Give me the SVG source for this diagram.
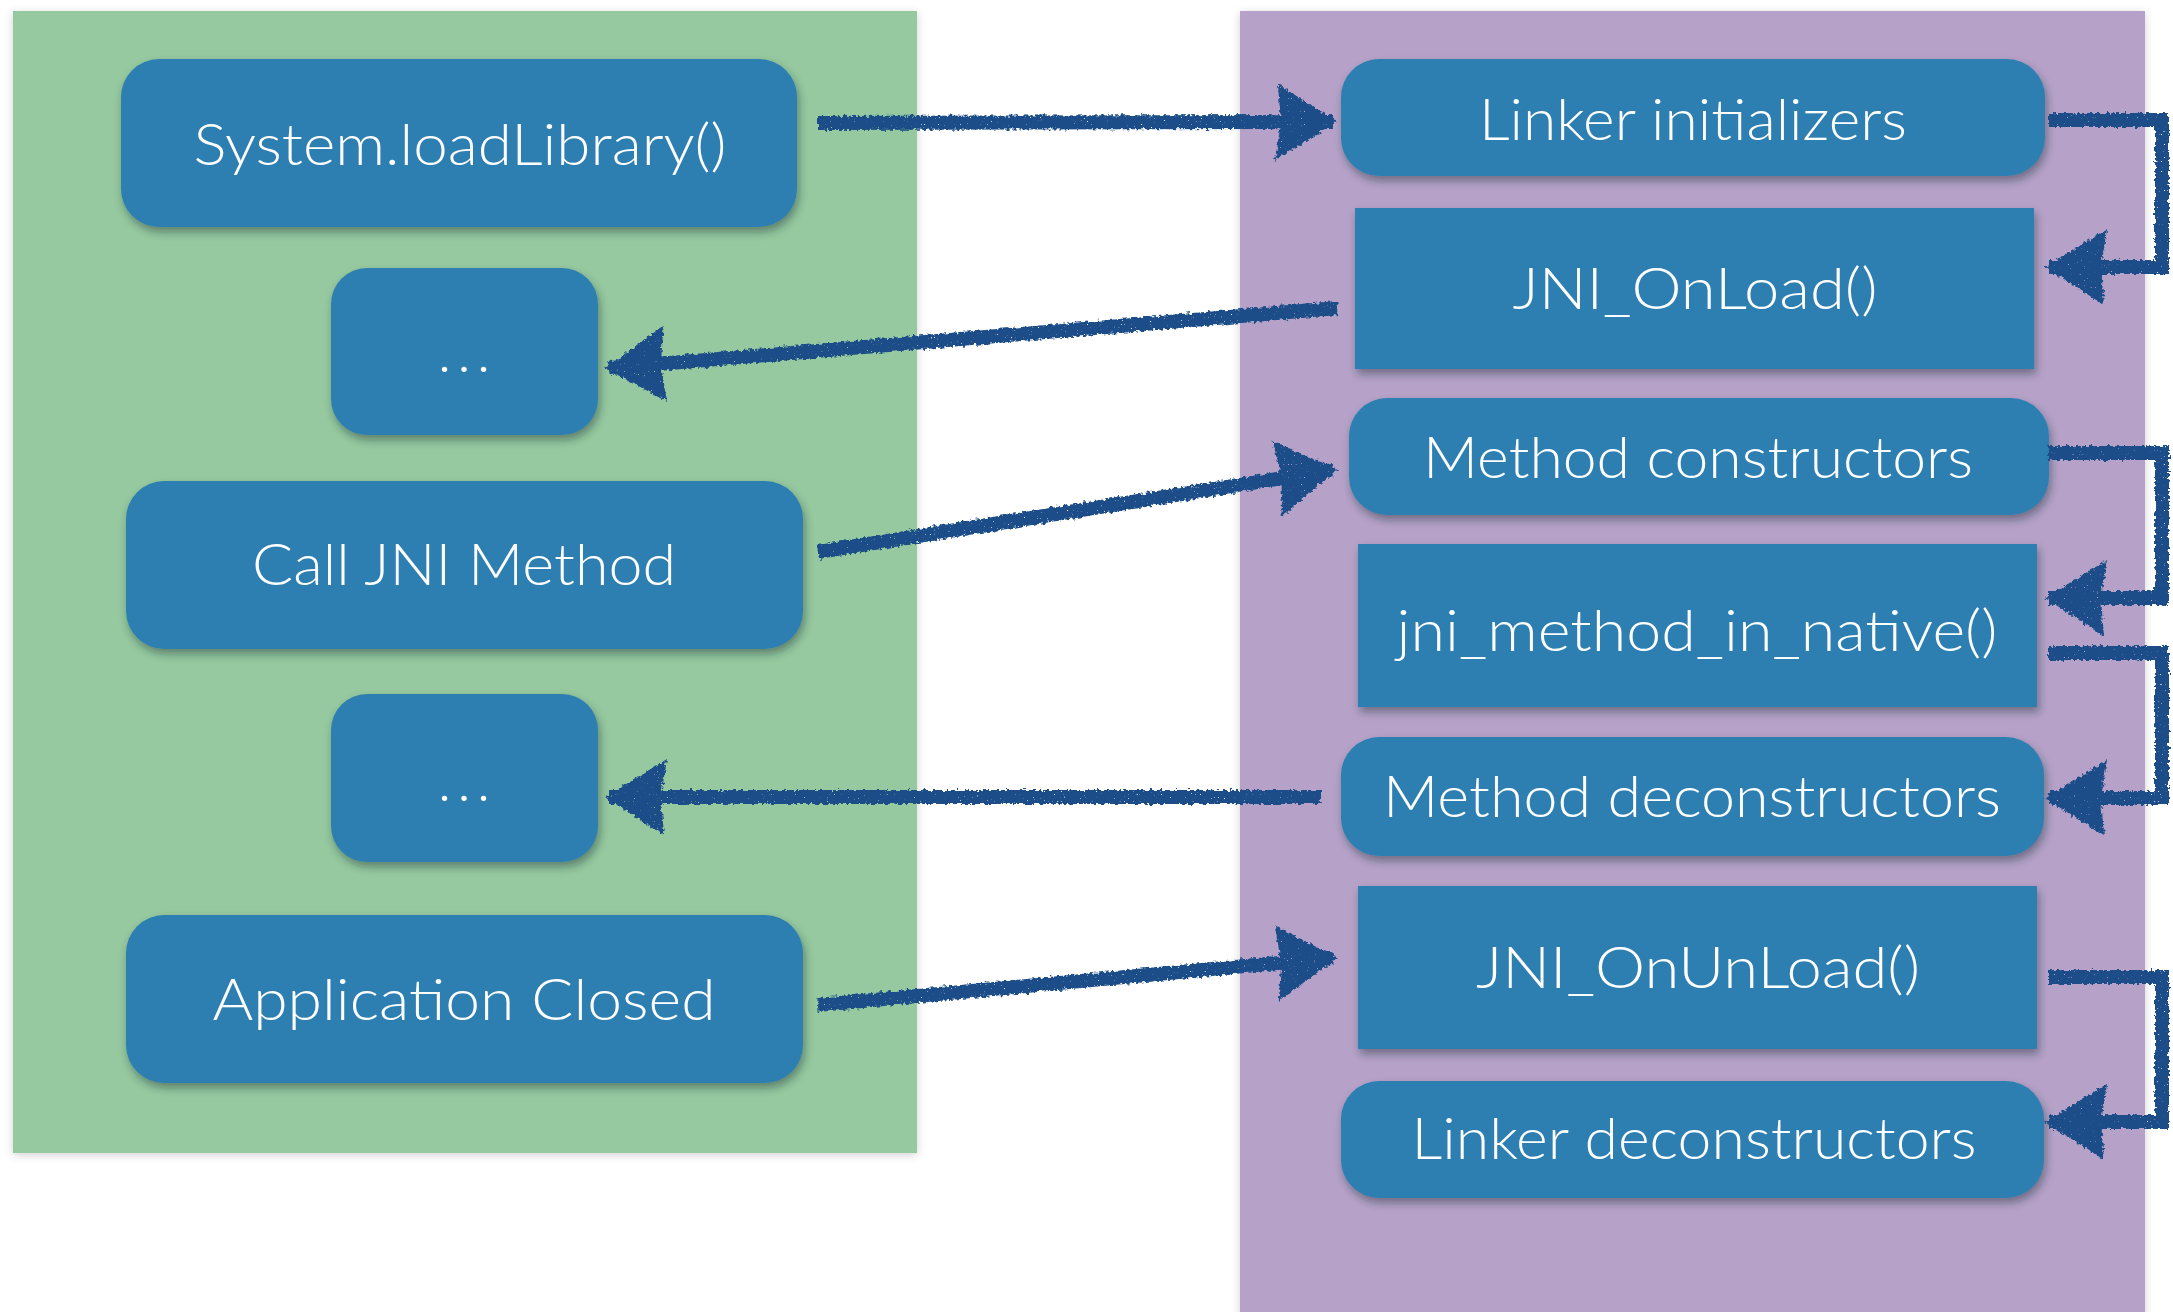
<svg xmlns="http://www.w3.org/2000/svg" width="2173" height="1312" viewBox="0 0 2173 1312">
  <defs>
    <style>
      .panel { stroke: none; }
      .java { fill: #96c99f; }
      .native { fill: #b6a2c8; }
      .node { fill: #2e7fb1; }
      .label { fill: #ffffff; font-family: Lato, "Open Sans", "Liberation Sans", sans-serif; font-weight: 300; font-size: 58px; text-anchor: middle; }
      .dots { letter-spacing: 6px; }
      .wire { fill: none; stroke: #1a4d88; stroke-width: 14; stroke-linejoin: miter; stroke-linecap: butt; }
    </style>
    <filter id="panelShadow" x="-5%" y="-5%" width="110%" height="110%">
      <feDropShadow dx="0" dy="2" stdDeviation="4" flood-color="#000" flood-opacity="0.18"/>
    </filter>
    <filter id="nodeShadow" x="-10%" y="-10%" width="120%" height="130%">
      <feDropShadow dx="2" dy="5" stdDeviation="4" flood-color="#1d2a36" flood-opacity="0.45"/>
    </filter>
    <!-- rough, lightly speckled chalk look for the hand-drawn connectors -->
    <filter id="chalk" x="-5%" y="-20%" width="110%" height="140%">
      <feTurbulence type="fractalNoise" baseFrequency="0.3" numOctaves="2" seed="3" result="noise"/>
      <feDisplacementMap in="SourceGraphic" in2="noise" scale="6" xChannelSelector="R" yChannelSelector="G" result="rough"/>
      <feTurbulence type="fractalNoise" baseFrequency="0.7" numOctaves="1" seed="11" result="grain"/>
      <feColorMatrix in="grain" type="matrix" values="0 0 0 0 0  0 0 0 0 0  0 0 0 0 0  0 0 0 -10 8" result="mask"/>
      <feComposite in="rough" in2="mask" operator="in"/>
    </filter>
    <marker id="head" markerUnits="userSpaceOnUse" viewBox="0 0 62 76" refX="58" refY="38" markerWidth="62" markerHeight="76" orient="auto">
      <path d="M3,0 L62,38 L0,76 L6,38 Z" fill="#1a4d88"/>
    </marker>
  </defs>

  <rect width="2173" height="1312" fill="#ffffff"/>

  <!-- Java side and native side panels -->
  <rect id="java-panel" class="panel java" x="13" y="11" width="904" height="1142" filter="url(#panelShadow)"/>
  <rect id="native-panel" class="panel native" x="1240" y="11" width="905" height="1310" filter="url(#panelShadow)"/>

  <!-- Java side -->
  <g id="load-library" filter="url(#nodeShadow)">
    <rect class="node" x="121" y="59" width="676" height="168" rx="38"/>
    <text class="label" x="460" y="165" textLength="533" lengthAdjust="spacingAndGlyphs">System.loadLibrary()</text>
  </g>
  <g id="ellipsis-1" filter="url(#nodeShadow)">
    <rect class="node" x="331" y="268" width="267" height="167" rx="36"/>
    <text class="label dots" x="467" y="372">...</text>
  </g>
  <g id="call-jni-method" filter="url(#nodeShadow)">
    <rect class="node" x="126" y="481" width="677" height="168" rx="38"/>
    <text class="label" x="464" y="585" textLength="424" lengthAdjust="spacingAndGlyphs">Call JNI Method</text>
  </g>
  <g id="ellipsis-2" filter="url(#nodeShadow)">
    <rect class="node" x="331" y="694" width="267" height="168" rx="36"/>
    <text class="label dots" x="467" y="801">...</text>
  </g>
  <g id="application-closed" filter="url(#nodeShadow)">
    <rect class="node" x="126" y="915" width="677" height="168" rx="38"/>
    <text class="label" x="464" y="1020" textLength="503" lengthAdjust="spacingAndGlyphs">Application Closed</text>
  </g>

  <!-- Native side -->
  <g id="linker-initializers" filter="url(#nodeShadow)">
    <rect class="node" x="1341" y="59" width="704" height="117" rx="38"/>
    <text class="label" x="1693" y="140" textLength="428" lengthAdjust="spacingAndGlyphs">Linker initializers</text>
  </g>
  <g id="jni-onload" filter="url(#nodeShadow)">
    <rect class="node" x="1355" y="208" width="679" height="161"/>
    <text class="label" x="1695" y="309" textLength="365" lengthAdjust="spacingAndGlyphs">JNI_OnLoad()</text>
  </g>
  <g id="method-constructors" filter="url(#nodeShadow)">
    <rect class="node" x="1349" y="398" width="700" height="117" rx="38"/>
    <text class="label" x="1698" y="478" textLength="550" lengthAdjust="spacingAndGlyphs">Method constructors</text>
  </g>
  <g id="jni-method-in-native" filter="url(#nodeShadow)">
    <rect class="node" x="1358" y="544" width="679" height="163"/>
    <text class="label" x="1697" y="651" textLength="601" lengthAdjust="spacingAndGlyphs">jni_method_in_native()</text>
  </g>
  <g id="method-deconstructors" filter="url(#nodeShadow)">
    <rect class="node" x="1341" y="737" width="703" height="119" rx="38"/>
    <text class="label" x="1692" y="817" textLength="618" lengthAdjust="spacingAndGlyphs">Method deconstructors</text>
  </g>
  <g id="jni-onunload" filter="url(#nodeShadow)">
    <rect class="node" x="1358" y="886" width="679" height="163"/>
    <text class="label" x="1698" y="988" textLength="444" lengthAdjust="spacingAndGlyphs">JNI_OnUnLoad()</text>
  </g>
  <g id="linker-deconstructors" filter="url(#nodeShadow)">
    <rect class="node" x="1341" y="1081" width="703" height="117" rx="38"/>
    <text class="label" x="1694" y="1159" textLength="565" lengthAdjust="spacingAndGlyphs">Linker deconstructors</text>
  </g>

  <!-- Connectors -->
  <g id="connectors" filter="url(#chalk)">
    <path class="wire" d="M818,123 L1333,122" marker-end="url(#head)"/>
    <path class="wire" d="M1338,308 L609,368" marker-end="url(#head)"/>
    <path class="wire" d="M818,552 L1333,470" marker-end="url(#head)"/>
    <path class="wire" d="M1321,797 L609,797" marker-end="url(#head)"/>
    <path class="wire" d="M818,1005 L1333,958" marker-end="url(#head)"/>
    <path class="wire" d="M2048,120 H2162 V267 H2049" marker-end="url(#head)"/>
    <path class="wire" d="M2048,453 H2162 V598 H2049" marker-end="url(#head)"/>
    <path class="wire" d="M2048,653 H2162 V798 H2049" marker-end="url(#head)"/>
    <path class="wire" d="M2048,977 H2162 V1122 H2049" marker-end="url(#head)"/>
  </g>
</svg>
